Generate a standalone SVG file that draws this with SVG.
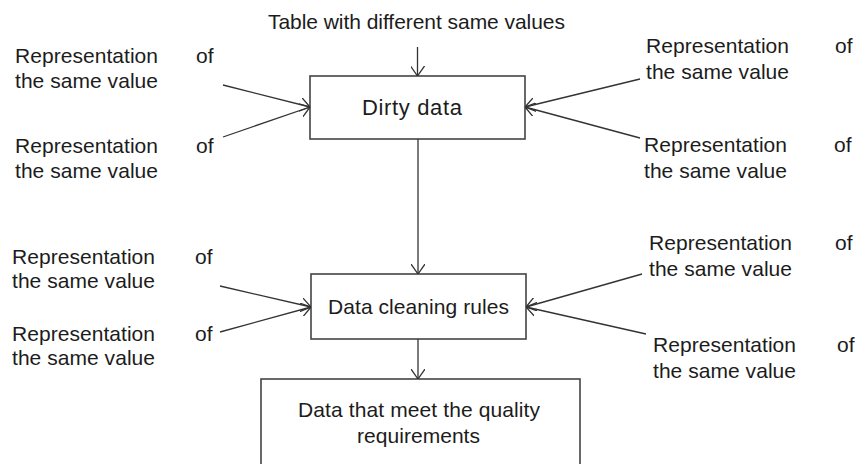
<svg xmlns="http://www.w3.org/2000/svg" width="858" height="464" viewBox="0 0 858 464">
  <style>
    text { font-family: "Liberation Sans", Arial, sans-serif; font-size: 21px; fill: #1c1c1c; }
    .node-text { text-anchor: middle; }
    .big { font-size: 22px; }
    .box { fill: #fff; stroke: #444; stroke-width: 1.6; }
    .conn { stroke: #333; stroke-width: 1.3; fill: none; marker-end: url(#arrow); }
  </style>
  <defs>
    <marker id="arrow" viewBox="0 0 10 14" refX="10" refY="7" markerWidth="10" markerHeight="14" markerUnits="userSpaceOnUse" orient="auto">
      <path d="M0,0 L10,7 L0,14" fill="none" stroke="#333" stroke-width="1.3"/>
    </marker>
  </defs>
  <rect width="858" height="464" fill="#fff"/>

  <g id="title">
    <text class="node-text" x="416.5" y="29" textLength="297" lengthAdjust="spacing">Table with different same values</text>
  </g>

  <g id="dirty-data">
    <rect class="box" x="310" y="76" width="215" height="63"/>
    <text class="node-text big" x="412" y="115" textLength="100" lengthAdjust="spacing">Dirty data</text>
  </g>

  <g id="data-cleaning-rules">
    <rect class="box" x="311" y="274" width="215" height="65"/>
    <text class="node-text" x="418.5" y="314" textLength="181" lengthAdjust="spacing">Data cleaning rules</text>
  </g>

  <g id="quality-data">
    <rect class="box" x="261" y="379" width="319" height="100"/>
    <text class="node-text" x="419" y="417" textLength="242" lengthAdjust="spacing">Data that meet the quality</text>
    <text class="node-text" x="418.5" y="443" textLength="123" lengthAdjust="spacing">requirements</text>
  </g>

  <g id="label-tl">
    <text x="15" y="62.5" textLength="143" lengthAdjust="spacing">Representation</text>
    <text x="196" y="62.5">of</text>
    <text x="15" y="88" textLength="143" lengthAdjust="spacing">the same value</text>
  </g>
  <g id="label-ml">
    <text x="15" y="153" textLength="143" lengthAdjust="spacing">Representation</text>
    <text x="196" y="153">of</text>
    <text x="15" y="178" textLength="143" lengthAdjust="spacing">the same value</text>
  </g>
  <g id="label-bl1">
    <text x="12" y="264" textLength="143" lengthAdjust="spacing">Representation</text>
    <text x="195" y="264">of</text>
    <text x="12" y="288" textLength="143" lengthAdjust="spacing">the same value</text>
  </g>
  <g id="label-bl2">
    <text x="12" y="341" textLength="143" lengthAdjust="spacing">Representation</text>
    <text x="195" y="341">of</text>
    <text x="12" y="365" textLength="143" lengthAdjust="spacing">the same value</text>
  </g>
  <g id="label-tr">
    <text x="646" y="53" textLength="143" lengthAdjust="spacing">Representation</text>
    <text x="835" y="53">of</text>
    <text x="646" y="79" textLength="143" lengthAdjust="spacing">the same value</text>
  </g>
  <g id="label-mr">
    <text x="644" y="152" textLength="143" lengthAdjust="spacing">Representation</text>
    <text x="834" y="152">of</text>
    <text x="644" y="178" textLength="143" lengthAdjust="spacing">the same value</text>
  </g>
  <g id="label-br1">
    <text x="649" y="250" textLength="143" lengthAdjust="spacing">Representation</text>
    <text x="835" y="250">of</text>
    <text x="649" y="276" textLength="143" lengthAdjust="spacing">the same value</text>
  </g>
  <g id="label-br2">
    <text x="653" y="352" textLength="143" lengthAdjust="spacing">Representation</text>
    <text x="837" y="352">of</text>
    <text x="653" y="378" textLength="143" lengthAdjust="spacing">the same value</text>
  </g>

  <g id="connectors">
    <line class="conn" x1="417.5" y1="47" x2="417.5" y2="76"/>
    <line class="conn" x1="418" y1="139" x2="418" y2="274"/>
    <line class="conn" x1="418" y1="339" x2="418" y2="379"/>
    <line class="conn" x1="223" y1="85" x2="310" y2="107"/>
    <line class="conn" x1="223" y1="137" x2="310" y2="107"/>
    <line class="conn" x1="640" y1="79" x2="525" y2="107"/>
    <line class="conn" x1="640" y1="138" x2="525" y2="107"/>
    <line class="conn" x1="220" y1="286" x2="311" y2="307"/>
    <line class="conn" x1="220" y1="332" x2="311" y2="307"/>
    <line class="conn" x1="642" y1="274" x2="526" y2="307"/>
    <line class="conn" x1="646" y1="334" x2="526" y2="307"/>
  </g>
</svg>
